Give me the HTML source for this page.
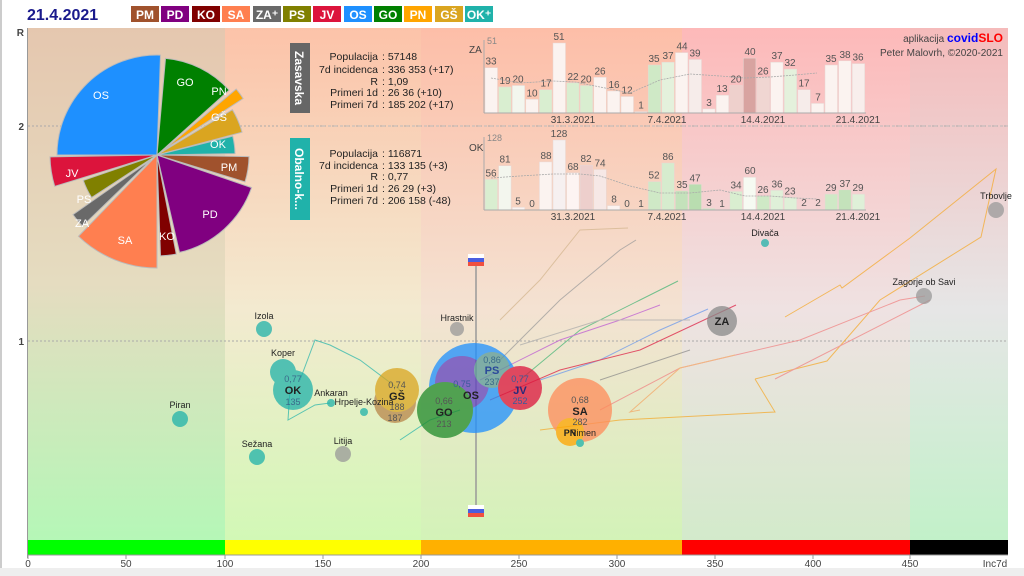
<!DOCTYPE html>
<html><head><meta charset="utf-8"><style>
html,body{margin:0;padding:0;background:#fff;}
svg{display:block;font-family:"Liberation Sans",sans-serif;}
.bl{font-size:10px;fill:#555;text-anchor:middle;}
.inf{font-size:10.5px;fill:#222;}
.lg{font-size:12px;fill:#fff;font-weight:bold;text-anchor:middle;}
.pl{font-size:11px;fill:#fff;text-anchor:middle;}
.nm{font-size:9px;fill:#222;text-anchor:middle;}
.tk{font-size:10px;fill:#444;text-anchor:middle;}
</style></head><body>
<svg width="1024" height="576" viewBox="0 0 1024 576">
<defs>
<linearGradient id="gA" x1="0" y1="0" x2="0" y2="1"><stop offset="0" stop-color="#e5c7af"/><stop offset=".5" stop-color="#e5dcc0"/><stop offset="1" stop-color="#b5f7b7"/></linearGradient>
<linearGradient id="gB" x1="0" y1="0" x2="0" y2="1"><stop offset="0" stop-color="#fcc3a9"/><stop offset=".55" stop-color="#f3ead0"/><stop offset="1" stop-color="#d2f8b6"/></linearGradient>
<linearGradient id="gC" x1="0" y1="0" x2="0" y2="1"><stop offset="0" stop-color="#fdbea8"/><stop offset=".55" stop-color="#f4e2d2"/><stop offset="1" stop-color="#d3f3b8"/></linearGradient>
<linearGradient id="gD" x1="0" y1="0" x2="0" y2="1"><stop offset="0" stop-color="#fdb9b9"/><stop offset=".55" stop-color="#efe2e2"/><stop offset="1" stop-color="#d3eacb"/></linearGradient>
<linearGradient id="gE" x1="0" y1="0" x2="0" y2="1"><stop offset="0" stop-color="#f5bbbb"/><stop offset=".55" stop-color="#e6e6e6"/><stop offset="1" stop-color="#c2f1c9"/></linearGradient>
</defs>
<rect width="1024" height="576" fill="#fff"/>
<rect x="0" y="0" width="2" height="576" fill="#ccc"/>
<rect x="0" y="568" width="1024" height="8" fill="#eee"/>
<!-- zones -->
<rect x="28" y="28" width="197" height="512" fill="url(#gA)"/>
<rect x="225" y="28" width="196" height="512" fill="url(#gB)"/>
<rect x="421" y="28" width="261" height="512" fill="url(#gC)"/>
<rect x="682" y="28" width="228" height="512" fill="url(#gD)"/>
<rect x="910" y="28" width="98" height="512" fill="url(#gE)"/>
<!-- colour bar -->
<rect x="28" y="540" width="197" height="15" fill="#00ff00"/>
<rect x="225" y="540" width="196" height="15" fill="#ffff00"/>
<rect x="421" y="540" width="261" height="15" fill="#ffb000"/>
<rect x="682" y="540" width="228" height="15" fill="#ff0000"/>
<rect x="910" y="540" width="98" height="15" fill="#000"/>
<line x1="28" y1="555" x2="1008" y2="555" stroke="#999"/>
<line x1="27.5" y1="28" x2="27.5" y2="558" stroke="#999"/>
<g stroke="#999"><line x1="28" y1="555" x2="28" y2="559"/><line x1="126" y1="555" x2="126" y2="559"/><line x1="225" y1="555" x2="225" y2="559"/><line x1="323" y1="555" x2="323" y2="559"/><line x1="421" y1="555" x2="421" y2="559"/><line x1="519" y1="555" x2="519" y2="559"/><line x1="617" y1="555" x2="617" y2="559"/><line x1="715" y1="555" x2="715" y2="559"/><line x1="813" y1="555" x2="813" y2="559"/><line x1="910" y1="555" x2="910" y2="559"/></g>
<g class="tk"><text x="28" y="567">0</text><text x="126" y="567">50</text><text x="225" y="567">100</text><text x="323" y="567">150</text><text x="421" y="567">200</text><text x="519" y="567">250</text><text x="617" y="567">300</text><text x="715" y="567">350</text><text x="813" y="567">400</text><text x="910" y="567">450</text><text x="995" y="567">Inc7d</text></g>
<g font-size="10" fill="#444" font-weight="bold" text-anchor="end"><text x="24" y="36">R</text><text x="24" y="130">2</text><text x="24" y="345">1</text></g>
<line x1="28" y1="126" x2="1008" y2="126" stroke="#aaa" stroke-dasharray="2,2"/>
<line x1="28" y1="341" x2="1008" y2="341" stroke="#aaa" stroke-dasharray="2,2"/>
<!-- header -->
<text x="27" y="20" font-size="16" font-weight="bold" fill="#1a1a8c">21.4.2021</text>
<g class="lg">
<rect x="131" y="6" width="28" height="16" fill="#a0522d"/><text x="145" y="19">PM</text>
<rect x="161" y="6" width="28" height="16" fill="#800080"/><text x="175" y="19">PD</text>
<rect x="192" y="6" width="28" height="16" fill="#800000"/><text x="206" y="19">KO</text>
<rect x="222" y="6" width="28" height="16" fill="#ff7f50"/><text x="236" y="19">SA</text>
<rect x="253" y="6" width="28" height="16" fill="#696969"/><text x="267" y="19">ZA⁺</text>
<rect x="283" y="6" width="28" height="16" fill="#808000"/><text x="297" y="19">PS</text>
<rect x="313" y="6" width="28" height="16" fill="#dc143c"/><text x="327" y="19">JV</text>
<rect x="344" y="6" width="28" height="16" fill="#1e90ff"/><text x="358" y="19">OS</text>
<rect x="374" y="6" width="28" height="16" fill="#008000"/><text x="388" y="19">GO</text>
<rect x="404" y="6" width="28" height="16" fill="#ffa500"/><text x="418" y="19">PN</text>
<rect x="435" y="6" width="28" height="16" fill="#daa520"/><text x="449" y="19">GŠ</text>
<rect x="465" y="6" width="28" height="16" fill="#20b2aa"/><text x="479" y="19">OK⁺</text>
</g>
<!-- pie -->
<g stroke="#bbb" stroke-width="1">
<path d="M157,155 L57,155 A100,100 0 0 1 160.5,55.1 Z" fill="#1e90ff"/>
<path d="M157,155 L165.5,58.4 A97,97 0 0 1 229.1,90.1 Z" fill="#008000"/>
<path d="M163.4,150.2 L236.2,89.1 A95,95 0 0 1 243.1,98.5 Z" fill="#ffa500"/>
<path d="M157,155 L232.4,109.7 A88,88 0 0 1 242,132.2 Z" fill="#daa520"/>
<path d="M157,155 L232.7,136.1 A78,78 0 0 1 235,153.6 Z" fill="#20b2aa"/>
<path d="M157,155 L249,156.6 A92,92 0 0 1 245,181.9 Z" fill="#a0522d"/>
<path d="M157,155 L251.6,187.6 A100,100 0 0 1 179.5,252.4 Z" fill="#800080"/>
<path d="M157,155 L176.3,254.1 A101,101 0 0 1 160.5,255.9 Z" fill="#800000"/>
<path d="M157,155 L157,268 A113,113 0 0 1 78.5,236.3 Z" fill="#ff7f50"/>
<path d="M150.8,160.1 L82.5,226.1 A95,95 0 0 1 73,214.6 Z" fill="#696969"/>
<path d="M157,155 L91.6,197.5 A78,78 0 0 1 83.3,180.4 Z" fill="#808000"/>
<path d="M157,155 L54.7,186.3 A107,107 0 0 1 50,156.9 Z" fill="#dc143c"/>
</g>
<g class="pl"><text x="101" y="99">OS</text><text x="185" y="86">GO</text><text x="219" y="95">PN</text><text x="219" y="121">GŠ</text><text x="218" y="148">OK</text><text x="229" y="171">PM</text><text x="210" y="218">PD</text><text x="167" y="240">KO</text><text x="125" y="244">SA</text><text x="82" y="227">ZA</text><text x="84" y="203">PS</text><text x="72" y="177">JV</text></g>
<!-- info boxes -->
<rect x="290" y="43" width="20" height="70" fill="#666"/>
<text transform="translate(295,78) rotate(90)" font-size="12" font-weight="bold" fill="#fff" text-anchor="middle">Zasavska</text>
<rect x="290" y="138" width="20" height="82" fill="#20b2aa"/>
<text transform="translate(295,179) rotate(90)" font-size="12" font-weight="bold" fill="#fff" text-anchor="middle">Obalno-k...</text>
<g class="inf">
<g text-anchor="end"><text x="378" y="60">Populacija</text><text x="378" y="73">7d incidenca</text><text x="378" y="85">R</text><text x="378" y="96">Primeri 1d</text><text x="378" y="108">Primeri 7d</text>
<text x="378" y="157">Populacija</text><text x="378" y="169">7d incidenca</text><text x="378" y="180">R</text><text x="378" y="192">Primeri 1d</text><text x="378" y="204">Primeri 7d</text></g>
<text x="382" y="60">: 57148</text><text x="382" y="73">: 336 353 (+17)</text><text x="382" y="85">: 1,09</text><text x="382" y="96">: 26 36 (+10)</text><text x="382" y="108">: 185 202 (+17)</text>
<text x="382" y="157">: 116871</text><text x="382" y="169">: 133 135 (+3)</text><text x="382" y="180">: 0,77</text><text x="382" y="192">: 26 29 (+3)</text><text x="382" y="204">: 206 158 (-48)</text>
</g>
<line x1="280" y1="126" x2="1008" y2="126" stroke="#bbb" stroke-dasharray="3,3"/>
<!-- bar chart ZA -->
<text x="469" y="53" font-size="10" fill="#444">ZA</text><text x="487" y="44" font-size="9" fill="#888">51</text>
<line x1="484" y1="40" x2="484" y2="113" stroke="#aaa"/>
<g stroke="#e8d8d4" stroke-width=".5">
<rect x="485" y="67.7" width="12.5" height="45.3" fill="#fbf3f0"/>
<rect x="498.6" y="86.9" width="12.5" height="26.1" fill="#d9eed0"/>
<rect x="512.2" y="85.5" width="12.5" height="27.5" fill="#f3f6ee"/>
<rect x="525.8" y="99.3" width="12.5" height="13.7" fill="#fbf3f0"/>
<rect x="539.4" y="89.7" width="12.5" height="23.3" fill="#d9eed0"/>
<rect x="553" y="43" width="12.5" height="70" fill="#fbf3f0"/>
<rect x="566.6" y="82.8" width="12.5" height="30.2" fill="#d9eed0"/>
<rect x="580.2" y="85.5" width="12.5" height="27.5" fill="#d9eed0"/>
<rect x="593.8" y="77.3" width="12.5" height="35.7" fill="#fbf3f0"/>
<rect x="607.4" y="91" width="12.5" height="22" fill="#fbf3f0"/>
<rect x="621" y="96.5" width="12.5" height="16.5" fill="#fbf3f0"/>
<rect x="634.6" y="111.6" width="12.5" height="1.4" fill="#fbf3f0"/>
<rect x="648.2" y="65" width="12.5" height="48" fill="#cfe9c6"/>
<rect x="661.8" y="62.2" width="12.5" height="50.8" fill="#e4f1dc"/>
<rect x="675.4" y="52.6" width="12.5" height="60.4" fill="#fbf3f0"/>
<rect x="689" y="59.5" width="12.5" height="53.5" fill="#f6ecea"/>
<rect x="702.6" y="108.9" width="12.5" height="4.1" fill="#fbf3f0"/>
<rect x="716.2" y="95.2" width="12.5" height="17.8" fill="#fbf3f0"/>
<rect x="729.8" y="85.5" width="12.5" height="27.5" fill="#eed0cc"/>
<rect x="743.4" y="58.1" width="12.5" height="54.9" fill="#d8a3a0"/>
<rect x="757" y="77.3" width="12.5" height="35.7" fill="#f0d6d2"/>
<rect x="770.6" y="62.2" width="12.5" height="50.8" fill="#fbf3f0"/>
<rect x="784.2" y="69.1" width="12.5" height="43.9" fill="#e4f1dc"/>
<rect x="797.8" y="89.7" width="12.5" height="23.3" fill="#f6ecea"/>
<rect x="811.4" y="103.4" width="12.5" height="9.6" fill="#fbf3f0"/>
<rect x="825" y="65" width="12.5" height="48" fill="#fbf3f0"/>
<rect x="838.6" y="60.8" width="12.5" height="52.2" fill="#fbf3f0"/>
<rect x="852.2" y="63.6" width="12.5" height="49.4" fill="#f8eeec"/>
</g>
<g class="bl">
<text x="491" y="64.7">33</text><text x="505" y="83.9">19</text><text x="518" y="82.5">20</text><text x="532" y="96.3">10</text><text x="546" y="86.7">17</text><text x="559" y="40">51</text><text x="573" y="79.8">22</text><text x="586" y="82.5">20</text><text x="600" y="74.3">26</text><text x="614" y="88">16</text><text x="627" y="93.5">12</text><text x="641" y="108.6">1</text><text x="654" y="62">35</text><text x="668" y="59.2">37</text><text x="682" y="49.6">44</text><text x="695" y="56.5">39</text><text x="709" y="105.9">3</text><text x="722" y="92.2">13</text><text x="736" y="82.5">20</text><text x="750" y="55.1">40</text><text x="763" y="74.3">26</text><text x="777" y="59.2">37</text><text x="790" y="66.1">32</text><text x="804" y="86.7">17</text><text x="818" y="100.4">7</text><text x="831" y="62">35</text><text x="845" y="57.8">38</text><text x="858" y="60.6">36</text>
</g>
<polyline points="491,78 520,83 553,81 575,82 600,87 630,93 660,80 690,74 720,76 745,78 770,77 795,75 817,73" fill="none" stroke="#aaa" stroke-dasharray="2,1" stroke-width=".8"/>
<line x1="484" y1="113" x2="866" y2="113" stroke="#aaa"/>
<g class="tk"><text x="573" y="123">31.3.2021</text><text x="667" y="123">7.4.2021</text><text x="763" y="123">14.4.2021</text><text x="858" y="123">21.4.2021</text></g>
<!-- bar chart OK -->
<text x="469" y="151" font-size="10" fill="#444">OK</text><text x="487" y="141" font-size="9" fill="#888">128</text>
<line x1="484" y1="137" x2="484" y2="210" stroke="#aaa"/>
<g stroke="#e8d8d4" stroke-width=".5">
<rect x="485" y="179.4" width="12.5" height="30.6" fill="#d9eed0"/>
<rect x="498.6" y="165.7" width="12.5" height="44.3" fill="#f3f6ee"/>
<rect x="512.2" y="207.3" width="12.5" height="2.7" fill="#fbf3f0"/>
<rect x="539.4" y="161.9" width="12.5" height="48.1" fill="#fbf3f0"/>
<rect x="553" y="140" width="12.5" height="70" fill="#f6f0f0"/>
<rect x="566.6" y="172.8" width="12.5" height="37.2" fill="#fdf4f2"/>
<rect x="580.2" y="165.2" width="12.5" height="44.8" fill="#edcfcc"/>
<rect x="593.8" y="169.5" width="12.5" height="40.5" fill="#f6e8e6"/>
<rect x="607.4" y="205.6" width="12.5" height="4.4" fill="#fbf3f0"/>
<rect x="648.2" y="181.6" width="12.5" height="28.4" fill="#cfe9c6"/>
<rect x="661.8" y="163" width="12.5" height="47" fill="#d6ecce"/>
<rect x="675.4" y="190.9" width="12.5" height="19.1" fill="#c4e2bb"/>
<rect x="689" y="184.3" width="12.5" height="25.7" fill="#b9ddb0"/>
<rect x="702.6" y="208.4" width="12.5" height="1.6" fill="#cfe9c6"/>
<rect x="729.8" y="191.4" width="12.5" height="18.6" fill="#d9eed0"/>
<rect x="743.4" y="177.2" width="12.5" height="32.8" fill="#f6faf2"/>
<rect x="757" y="195.8" width="12.5" height="14.2" fill="#cfe9c6"/>
<rect x="770.6" y="190.3" width="12.5" height="19.7" fill="#dff0d8"/>
<rect x="784.2" y="197.4" width="12.5" height="12.6" fill="#dff0d8"/>
<rect x="825" y="194.1" width="12.5" height="15.9" fill="#cfe9c6"/>
<rect x="838.6" y="189.8" width="12.5" height="20.2" fill="#c4e2bb"/>
<rect x="852.2" y="194.1" width="12.5" height="15.9" fill="#dff0d8"/>
</g>
<g class="bl">
<text x="491" y="176.4">56</text><text x="505" y="162.7">81</text><text x="518" y="204.3">5</text><text x="532" y="207">0</text><text x="546" y="158.9">88</text><text x="559" y="137">128</text><text x="573" y="169.8">68</text><text x="586" y="162.2">82</text><text x="600" y="166.5">74</text><text x="614" y="202.6">8</text><text x="627" y="207">0</text><text x="641" y="207">1</text><text x="654" y="178.6">52</text><text x="668" y="160">86</text><text x="682" y="187.9">35</text><text x="695" y="181.3">47</text><text x="709" y="206">3</text><text x="722" y="207">1</text><text x="736" y="188.4">34</text><text x="750" y="174.2">60</text><text x="763" y="192.8">26</text><text x="777" y="187.3">36</text><text x="790" y="194.4">23</text><text x="804" y="206">2</text><text x="818" y="206">2</text><text x="831" y="191.1">29</text><text x="845" y="186.8">37</text><text x="858" y="191.1">29</text>
</g>
<polyline points="491,178 520,176 553,174 580,174 600,176 630,186 660,193 690,193 720,190 745,196 770,196 795,198 817,199" fill="none" stroke="#aaa" stroke-dasharray="2,1" stroke-width=".8"/>
<line x1="484" y1="210" x2="866" y2="210" stroke="#aaa"/>
<g class="tk"><text x="573" y="220">31.3.2021</text><text x="667" y="220">7.4.2021</text><text x="763" y="220">14.4.2021</text><text x="858" y="220">21.4.2021</text></g>
<!-- credits -->
<text x="1003" y="42" font-size="10" fill="#444" text-anchor="end">aplikacija <tspan fill="#0000ff" font-weight="bold" font-size="12">covid</tspan><tspan fill="#ff0000" font-weight="bold" font-size="12">SLO</tspan></text>
<text x="1003" y="56" font-size="10" fill="#444" text-anchor="end">Peter Malovrh, ©2020-2021</text>
<!-- trajectories -->
<g fill="none" stroke-width="1" opacity=".7">
<polyline points="785,317 840,285 842,288 910,238 996,169 981,237 880,300 827,361 755,379" stroke="#f5a623"/>
<polyline points="600,410 680,368 800,340 900,300 925,296" stroke="#f08080"/>
<polyline points="755,379 775,412 620,420 540,430" stroke="#f5a623"/>
<polyline points="775,379 930,300" stroke="#f08080"/>
<polyline points="640,410 630,412 680,368 735,355" stroke="#f4a460"/>
<polyline points="500,360 560,300 620,250 636,240" stroke="#999"/>
<polyline points="520,380 580,330 640,300 678,281" stroke="#3cb371"/>
<polyline points="540,380 600,360 660,330 708,309" stroke="#6495ed"/>
<polyline points="480,380 560,340 620,320 660,305" stroke="#ba55d3"/>
<polyline points="490,400 560,370 640,350 736,305" stroke="#dc143c"/>
<polyline points="500,320 540,280 580,230 628,228" stroke="#d2b48c"/>
<polyline points="300,380 315,340 330,345 360,360 400,390" stroke="#20b2aa"/>
<polyline points="290,390 288,420 315,405 330,403" stroke="#20b2aa"/>
<polyline points="400,440 430,420 460,410" stroke="#20b2aa"/>
<polyline points="600,380 660,360 690,350" stroke="#888"/>
<polyline points="520,345 600,320 690,320" stroke="#aaa"/>
</g>
<!-- flags & line -->
<line x1="476" y1="262" x2="476" y2="506" stroke="#999" stroke-width="1.5"/>
<rect x="468" y="254" width="16" height="4" fill="#fff"/><rect x="468" y="258" width="16" height="4" fill="#4a5ee0"/><rect x="468" y="262" width="16" height="4" fill="#f05040"/>
<rect x="468" y="505" width="16" height="4" fill="#fff"/><rect x="468" y="509" width="16" height="4" fill="#4a5ee0"/><rect x="468" y="513" width="16" height="4" fill="#f05040"/>
<!-- bubbles -->
<g opacity=".75">
<circle cx="996" cy="210" r="8" fill="#999"/>
<circle cx="765" cy="243" r="4" fill="#20b2aa"/>
<circle cx="924" cy="296" r="8" fill="#999"/>
<circle cx="722" cy="321" r="15" fill="#8a8a8a"/>
<circle cx="457" cy="329" r="7" fill="#999"/>
<circle cx="264" cy="329" r="8" fill="#20b2aa"/>
<circle cx="283" cy="372" r="13" fill="#20b2aa"/>
<circle cx="293" cy="390" r="20" fill="#20b2aa"/>
<circle cx="331" cy="403" r="4" fill="#20b2aa"/>
<circle cx="364" cy="412" r="4" fill="#20b2aa"/>
<circle cx="180" cy="419" r="8" fill="#20b2aa"/>
<circle cx="257" cy="457" r="8" fill="#20b2aa"/>
<circle cx="343" cy="454" r="8" fill="#999"/>
<circle cx="395" cy="402" r="21" fill="#b8864a"/>
<circle cx="397" cy="390" r="22" fill="#daa520"/>
<circle cx="474" cy="388" r="45" fill="#1e90ff"/>
<circle cx="462" cy="383" r="27" fill="#6040c0"/>
<circle cx="445" cy="410" r="28" fill="#1f8a2a"/>
<circle cx="492" cy="370" r="18" fill="#5a9a9a"/>
<circle cx="520" cy="388" r="22" fill="#dc143c"/>
<circle cx="580" cy="410" r="32" fill="#ff8c5a"/>
<circle cx="570" cy="432" r="14" fill="#ffa500"/>
<circle cx="580" cy="443" r="4" fill="#20b2aa"/>
</g>
<g class="nm">
<text x="996" y="199">Trbovlje</text><text x="765" y="236">Divača</text><text x="924" y="285">Zagorje ob Savi</text><text x="457" y="321">Hrastnik</text><text x="264" y="319">Izola</text><text x="283" y="356">Koper</text><text x="331" y="396">Ankaran</text><text x="364" y="405">Hrpelje-Kozina</text><text x="180" y="408">Piran</text><text x="257" y="447">Sežana</text><text x="343" y="444">Litija</text><text x="583" y="436">Rimen</text>
</g>
<g text-anchor="middle" fill="#222">
<text x="722" y="325" font-size="11" font-weight="bold">ZA</text>
<text x="293" y="382" font-size="9" fill="#3a6a8a">0,77</text><text x="293" y="394" font-size="11" font-weight="bold">OK</text><text x="293" y="405" font-size="9" fill="#3a6a8a">135</text>
<text x="397" y="388" font-size="9" fill="#555">0,74</text><text x="397" y="400" font-size="11" font-weight="bold">GŠ</text><text x="397" y="410" font-size="9" fill="#555">188</text><text x="395" y="421" font-size="9" fill="#555">187</text>
<text x="471" y="399" font-size="11" font-weight="bold">OS</text><text x="462" y="387" font-size="9" fill="#3a5a9a">0,75</text>
<text x="444" y="404" font-size="9" fill="#555">0,66</text><text x="444" y="416" font-size="11" font-weight="bold">GO</text><text x="444" y="427" font-size="9" fill="#555">213</text>
<text x="492" y="363" font-size="9" fill="#3a6a8a">0,86</text><text x="492" y="374" font-size="11" font-weight="bold" fill="#2a4a9a">PS</text><text x="492" y="385" font-size="9" fill="#3a6a8a">237</text>
<text x="520" y="382" font-size="9" fill="#3a5a9a">0,77</text><text x="520" y="394" font-size="11" font-weight="bold" fill="#2a2a7a">JV</text><text x="520" y="404" font-size="9" fill="#3a5a9a">252</text>
<text x="580" y="403" font-size="9" fill="#555">0,68</text><text x="580" y="415" font-size="11" font-weight="bold">SA</text><text x="580" y="425" font-size="9" fill="#555">282</text>
<text x="570" y="436" font-size="9" font-weight="bold">PN</text>
</g>
</svg>
</body></html>
